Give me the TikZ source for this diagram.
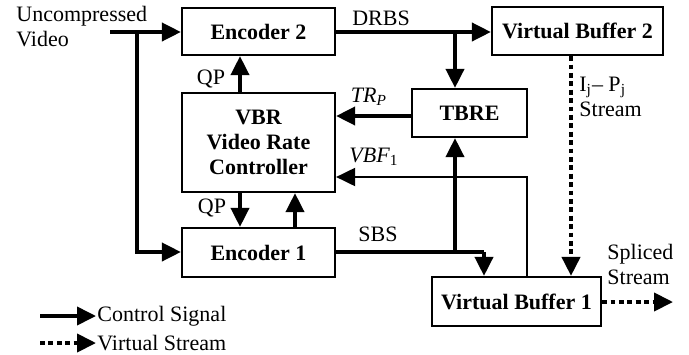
\documentclass[tikz,border=0pt]{standalone}
\usepackage{fontspec}
\setmainfont{Liberation Serif}
\usetikzlibrary{arrows.meta,calc}
\begin{document}
\begin{tikzpicture}[x=0.5pt,y=-0.5pt,
  font=\fontsize{11}{12.5}\selectfont,
  blk/.style={draw,line width=1.1pt,inner sep=0pt,font=\fontsize{11}{12.5}\selectfont\bfseries,align=center},
  tip/.tip={Triangle[length=9.5pt,width=9pt]},
  sig/.style={line width=1.9pt,-tip},
  thinsig/.style={line width=1pt,-tip},
  vstream/.style={line width=2pt,dash pattern=on 2.4pt off 1.8pt,-tip},
  lbl/.style={inner sep=0pt}]
\useasboundingbox (0,0) rectangle (689,354);
% blocks
\node[blk,minimum width=76.5pt,minimum height=23.5pt] (enc2) at (258.5,31.5) {Encoder 2};
\node[blk,minimum width=76.5pt,minimum height=49.5pt] (vbr) at (258.5,142.5) {VBR\\Video Rate\\Controller};
\node[blk,minimum width=76.5pt,minimum height=24.5pt] (enc1) at (258.5,252.5) {Encoder 1};
\node[blk,minimum width=85.5pt,minimum height=24pt] (vb2) at (577.5,31) {Virtual Buffer 2};
\node[blk,minimum width=57.5pt,minimum height=24pt] (tbre) at (469.5,113) {TBRE};
\node[blk,minimum width=84.5pt,minimum height=24.5pt] (vb1) at (516.5,301.5) {Virtual Buffer 1};
% helper coordinates
\coordinate (in) at (110,32);
\coordinate (br) at (137,32);
\coordinate (qpx) at (240,0);
\coordinate (upx) at (295,0);
\coordinate (tx) at (455,0);
\coordinate (ty) at (0,116);
\coordinate (drbs) at (455,32);
\coordinate (sbs) at (455,252);
\coordinate (sbsx) at (484,252);
\coordinate (vbfx) at (527,0);
\coordinate (vbfy) at (0,177);
\coordinate (ipx) at (571,0);
\coordinate (out) at (673,302);
% connectors
\draw[sig] (in) -- (enc2.west |- in);
\draw[sig] (br) |- (enc1.west |- sbs);
\draw[sig] (vbr.north -| qpx) -- (enc2.south -| qpx);
\draw[sig] (vbr.south -| qpx) -- (enc1.north -| qpx);
\draw[sig] (enc1.north -| upx) -- (vbr.south -| upx);
\draw[sig] (enc2.east |- drbs) -- (vb2.west |- drbs);
\draw[sig] (drbs) -- (tbre.north -| tx);
\draw[sig] (tbre.west |- ty) -- (vbr.east |- ty);
\draw[line width=1.9pt] (enc1.east |- sbs) -- (sbsx);
\draw[sig] (sbsx) -- (vb1.north -| sbsx);
\draw[sig] (sbs) -- (tbre.south -| tx);
\draw[thinsig] (vb1.north -| vbfx) -- (vbfx |- vbfy) -- (vbr.east |- vbfy);
\draw[vstream] (vb2.south -| ipx) -- (vb1.north -| ipx);
\draw[vstream] (vb1.east |- out) -- (out);
% labels
\node[lbl,anchor=west,align=left] (unc) at (16,27) {Uncompressed\\Video};
\node[lbl] (qp2) at (211,79) {QP};
\node[lbl] (qp1) at (212,208) {QP};
\node[lbl] (ldrbs) at (381,18) {DRBS};
\node[lbl] (ltrp) at (369,97) {\textit{TR}\textsubscript{\textit{P}}};
\node[lbl] (lvbf) at (374,157) {\textit{VBF}\textsubscript{1}};
\node[lbl] (lsbs) at (378,234) {SBS};
\node[lbl,anchor=west,align=left] (lij) at (579,97) {I\textsubscript{j}– P\textsubscript{j}\\Stream};
\node[lbl,anchor=west,align=left] (lsp) at (607,264) {Spliced\\Stream};
% legend
\coordinate (l1a) at (40,316);
\coordinate (l1b) at (96,316);
\coordinate (l2a) at (40,343);
\coordinate (l2b) at (96,343);
\draw[sig] (l1a) -- (l1b);
\draw[vstream] (l2a) -- (l2b);
\node[lbl,anchor=west] (lcs) at (97,316) {Control Signal};
\node[lbl,anchor=west] (lvs) at (97,343) {Virtual Stream};
\end{tikzpicture}
\end{document}
